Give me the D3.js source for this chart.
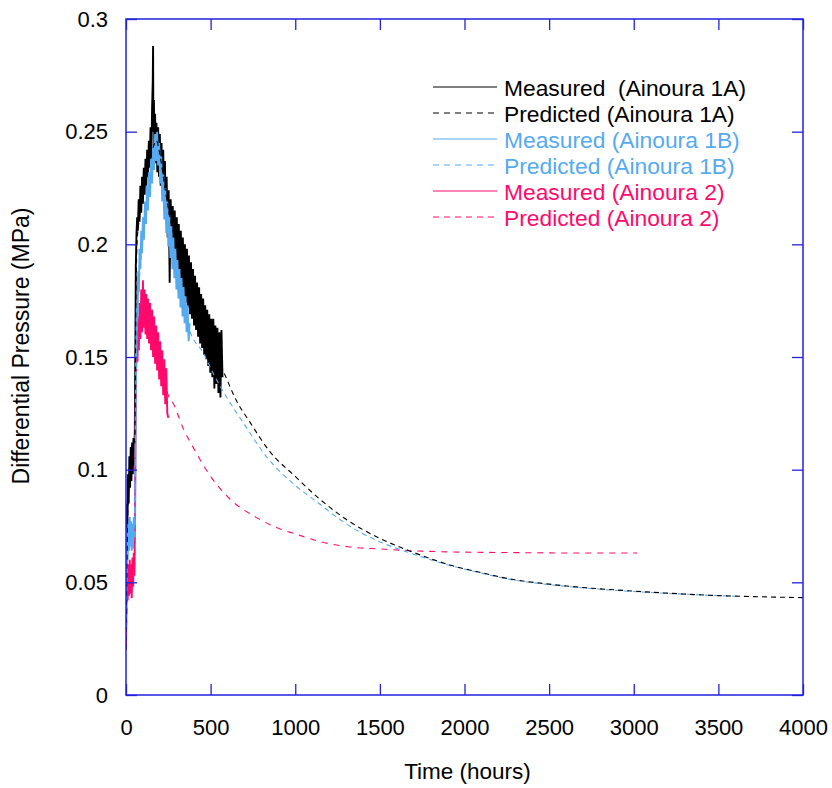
<!DOCTYPE html>
<html><head><meta charset="utf-8">
<script src="https://cdn.jsdelivr.net/npm/d3@7"></script>
<style>body{margin:0;background:#fff} text{font-family:"Liberation Sans",Arial,sans-serif}</style>
</head><body><svg id="c" width="832" height="788"></svg>
<script>
// ---- data (time in hours, differential pressure in MPa) ----
const xTicks = [0,500,1000,1500,2000,2500,3000,3500,4000];
const yTicks = [0,0.05,0.1,0.15,0.2,0.25,0.3];
const yTickLabels = ["0","0.05","0.1","0.15","0.2","0.25","0.3"];

const seriesNames = ["Measured  (Ainoura 1A)","Predicted (Ainoura 1A)","Measured (Ainoura 1B)","Predicted (Ainoura 1B)","Measured (Ainoura 2)","Predicted (Ainoura 2)"];
const seriesColors = ["#000000","#000000","#55aaf0","#55aaf0","#ff0a6c","#ff0a6c"];

const meas1A_t = [0,2,5,8,12,16,20,24,28,32,36,40,44,48,52,55,58,62,66,70,75,80,85,90,95,100,105,110,115,120,125,130,135,140,145,150,154,158,160,162,165,168,172,176,180,185,190,195,200,205,210,215,220,225,230,235,240,
 246,252,258,264,270,276,282,288,294,300,306,312,318,324,330,336,342,348,354,360,366,372,378,384,390,396,402,408,414,420,426,432,438,444,450,456,462,468,474,480,486,492,498,504,510,516,522,528,534,540,546,552,558,564,570];
const meas1A_v = [.025,.06,.085,.072,.098,.085,.106,.092,.11,.095,.112,.098,.114,.102,.117,.15,.19,.205,.212,.206,.22,.21,.226,.214,.23,.218,.234,.222,.238,.226,.242,.23,.246,.234,.252,.238,.26,.272,.288,.25,.264,.24,.258,.236,.254,.232,.252,.23,.249,.226,.245,.222,.242,.216,.237,.212,.23,
 .203,.224,.183,.22,.197,.217,.193,.215,.189,.212,.186,.209,.183,.206,.179,.203,.177,.2,.174,.198,.172,.195,.169,.192,.167,.189,.164,.186,.162,.183,.159,.181,.156,.178,.154,.176,.151,.173,.149,.171,.146,.169,.143,.167,.141,.167,.136,.164,.138,.163,.134,.161,.132,.162,.141];

const pred1A_t = [0,10,20,40,52,58,65,80,100,130,160,180,200,230,260,300,360,420,500,585,650,733,850,1000,1128,1300,1500,1660,1800,1914,2100,2269,2500,2700,2900,3200,3500,3800,4000];
const pred1A_v = [.02,.08,.1,.108,.115,.17,.2,.212,.222,.234,.243,.246,.24,.225,.212,.2,.185,.171,.157,.142,.131,.121,.108,.097,.088,.078,.0695,.0644,.0605,.0577,.0543,.0515,.0492,.0477,.0466,.0452,.0441,.0435,.0432];

const meas1B_t = [0,3,6,10,14,18,22,26,30,34,38,42,46,50,54,57,60,64,68,72,76,80,85,90,95,100,106,112,118,124,130,136,142,148,154,160,166,172,178,184,190,196,202,208,214,220,226,232,238,244,250,256,262,268,274,280,286,292,298,304,310,316,322,328,334,340,346,352,358,364,370,376];
const meas1B_v = [.03,.065,.074,.06,.077,.064,.079,.066,.077,.064,.076,.065,.079,.068,.08,.12,.15,.173,.167,.188,.179,.198,.189,.206,.196,.212,.202,.219,.209,.226,.215,.232,.221,.238,.227,.244,.233,.249,.237,.25,.235,.245,.227,.239,.219,.231,.211,.225,.205,.219,.199,.213,.194,.208,.189,.203,.185,.198,.18,.193,.176,.189,.172,.185,.168,.181,.165,.177,.161,.173,.157,.165];

const pred1B_t = [0,10,50,57,70,85,100,124,150,175,200,230,260,300,340,380,455,520,596,700,832,1000,1128,1300,1500,1660,1800,1914,2100,2269,2500,2900,3200,3600];
const pred1B_v = [.03,.065,.075,.12,.17,.19,.203,.218,.23,.24,.235,.218,.202,.186,.172,.161,.152,.142,.132,.12,.1056,.093,.0857,.076,.068,.0635,.06,.0575,.0541,.0513,.049,.0464,.0451,.0438];

const meas2_t = [0,3,6,10,14,18,22,26,30,34,38,42,46,50,54,57,60,64,68,72,76,80,85,90,95,100,105,110,115,120,125,130,136,142,148,154,160,166,172,178,184,190,196,202,208,214,220,226,232,238,244,250];
const meas2_v = [.02,.045,.056,.042,.058,.044,.06,.045,.058,.043,.061,.048,.063,.053,.09,.13,.145,.16,.148,.168,.153,.174,.158,.18,.161,.184,.163,.18,.16,.178,.158,.176,.156,.174,.153,.171,.15,.168,.147,.164,.144,.161,.14,.157,.137,.153,.133,.149,.129,.145,.125,.123];

const pred2_t = [0,10,50,56,65,85,112,150,200,250,278,340,396,500,600,774,900,1000,1150,1323,1500,1700,1914,2300,2700,3020];
const pred2_v = [.02,.045,.055,.12,.15,.165,.172,.162,.148,.133,.1296,.118,.110,.097,.088,.0786,.074,.0715,.068,.0657,.0648,.064,.0635,.0632,.063,.063];

// ---- drawing ----
const svg = d3.select("#c");
const L = 126, R = 803, T = 19, B = 695;
const x = d3.scaleLinear().domain([0,4000]).range([L,R]);
const y = d3.scaleLinear().domain([0,0.3]).range([B,T]);
const axisColor = "#2222dd";

svg.append("defs").append("clipPath").attr("id","clip")
  .append("rect").attr("x",L).attr("y",T).attr("width",R-L).attr("height",B-T);

const lineRaw = d3.line().x(d=>x(d[0])).y(d=>y(d[1]));
const lineSmooth = d3.line().x(d=>x(d[0])).y(d=>y(d[1])).curve(d3.curveMonotoneX);
const zip = (t,v)=>t.map((tt,i)=>[tt,v[i]]);

const series = [
  {d:zip(meas1A_t,meas1A_v), c:seriesColors[0], dash:null, w:1.9, l:lineRaw},
  {d:zip(meas2_t,meas2_v), c:seriesColors[4], dash:null, w:1.9, l:lineRaw},
  {d:zip(meas1B_t,meas1B_v), c:seriesColors[2], dash:null, w:1.9, l:lineRaw},
  {d:zip(pred2_t,pred2_v), c:seriesColors[5], dash:"6,6", w:1.1, l:lineSmooth},
  {d:zip(pred1B_t,pred1B_v), c:seriesColors[3], dash:"5,4", w:1.1, l:lineSmooth},
  {d:zip(pred1A_t,pred1A_v), c:seriesColors[1], dash:"5,4", w:1.1, l:lineSmooth}
];
const g = svg.append("g").attr("clip-path","url(#clip)");
series.forEach(s=>{
  g.append("path").datum(s.d).attr("d",s.l).attr("fill","none")
   .attr("stroke",s.c).attr("stroke-width",s.w)
   .attr("stroke-dasharray",s.dash);
});

// axes
function styleAxis(sel){
  sel.select(".domain").remove();
  sel.selectAll(".tick line").attr("stroke",axisColor).attr("stroke-width",1.3);
  sel.selectAll(".tick text").attr("fill","#000").attr("font-size",22)
     .style("font-family",'"Liberation Sans",Arial,sans-serif');
}
svg.append("g").attr("transform",`translate(0,${B})`)
  .call(d3.axisBottom(x).tickValues(xTicks).tickSize(-11).tickPadding(24).tickFormat(d3.format("d")))
  .call(styleAxis);
svg.append("g").attr("transform",`translate(0,${T})`)
  .call(d3.axisTop(x).tickValues(xTicks).tickSize(-11).tickFormat(""))
  .call(styleAxis);
svg.append("g").attr("transform",`translate(${L},0)`)
  .call(d3.axisLeft(y).tickValues(yTicks).tickSize(-11).tickPadding(18).tickFormat((d,i)=>yTickLabels[i]))
  .call(styleAxis);
svg.append("g").attr("transform",`translate(${R},0)`)
  .call(d3.axisRight(y).tickValues(yTicks).tickSize(-11).tickFormat(""))
  .call(styleAxis);

svg.append("rect").attr("x",L).attr("y",T).attr("width",R-L).attr("height",B-T)
  .attr("fill","none").attr("stroke",axisColor).attr("stroke-width",1.5);

// titles
svg.append("text").attr("x",(L+R)/2+3).attr("y",779).attr("text-anchor","middle")
  .attr("font-size",22.5).text("Time (hours)");
svg.append("text").attr("transform","translate(29,346) rotate(-90)").attr("text-anchor","middle")
  .attr("font-size",23).text("Differential Pressure (MPa)");

// legend
const lg = svg.append("g");
const dashes = [null,"6,5",null,"6,5",null,"6,5"];
seriesNames.forEach((n,i)=>{
  const yy = 87 + i*26;
  lg.append("line").attr("x1",433).attr("x2",497).attr("y1",yy).attr("y2",yy)
    .attr("stroke",seriesColors[i]).attr("stroke-width",1.1).attr("stroke-dasharray",dashes[i]);
  lg.append("text").attr("x",504).attr("y",yy+8.5).attr("font-size",22.8)
    .attr("fill",seriesColors[i]).style("white-space","pre").text(n);
});
</script></body></html>
